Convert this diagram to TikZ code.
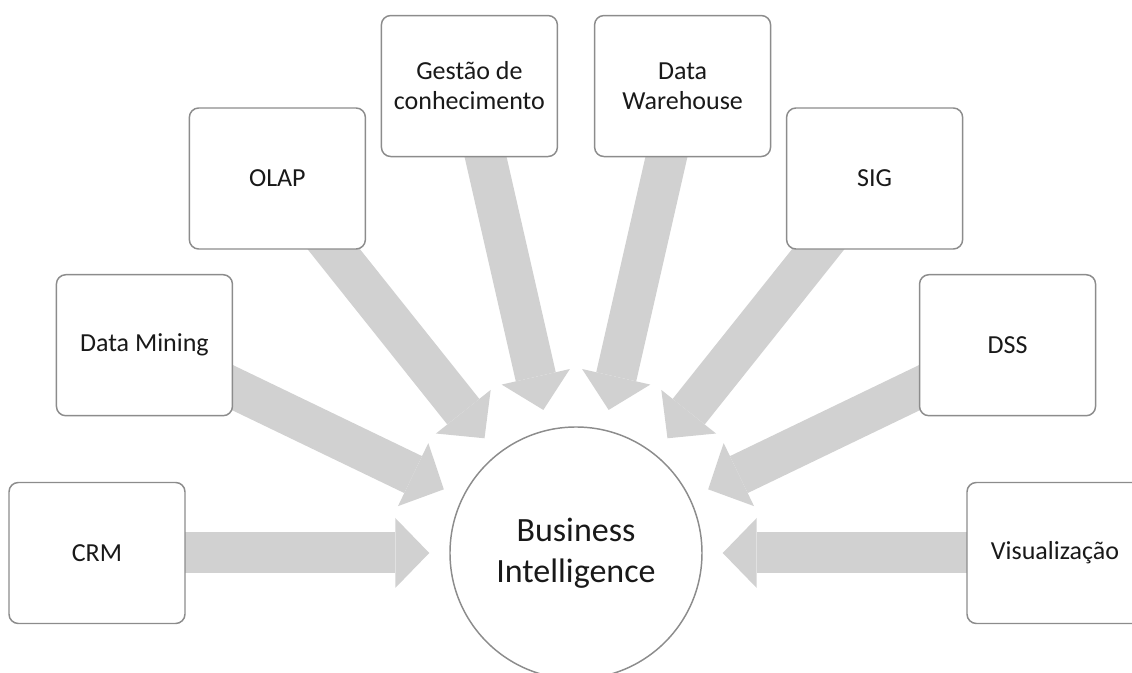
\documentclass[tikz,border=0pt]{standalone}
\usepackage{fontspec}
\setmainfont{Carlito}
\usetikzlibrary{arrows.meta}
\usetikzlibrary{backgrounds}

\begin{document}
\begin{tikzpicture}[x=0.75pt, y=0.75pt]
    \tikzstyle{hub} = [
      circle,
      align=center,
      draw=black!45,
      line width=1.1pt,
      fill=white,
      inner sep=0pt,
      minimum size=189pt,
      text=black!90,
      font=\fontsize{25.5}{30.5}\selectfont,
    ]
    \tikzstyle{topic} = [
      anchor=center,
      align=center,
      draw=black!45,
      line width=1.1pt,
      fill=white,
      rounded corners=7pt,
      minimum width=132pt,
      minimum height=105.75pt,
      text=black!90,
      font=\fontsize{19.5}{22.5}\selectfont,
    ]
    \tikzstyle{feed} = [
      line width=30.75pt,
      draw=black!18,
      -{Triangle[length=25.5pt, width=52.5pt, line width=0pt]},
      shorten >=15pt,
    ]

    \newcommand{\ringdistance}[0]{479}

    \useasboundingbox (-576,-120) rectangle (556,553);

    % centre
    {
      \node[hub] (bi) at (0,0) {Business\\Intelligence};
    }

    % left half
    {
      \node[topic] (crm)     at ([shift={(180:\ringdistance)}] bi.center)    {CRM};
      \node[topic] (mining)  at ([shift={(154.29:\ringdistance)}] bi.center) {Data Mining};
      \node[topic] (olap)    at ([shift={(128.57:\ringdistance)}] bi.center) {OLAP};
      \node[topic] (gestao)  at ([shift={(102.86:\ringdistance)}] bi.center) {Gestão de\\conhecimento};
    }

    % right half
    {
      \node[topic] (warehouse) at ([shift={(77.14:\ringdistance)}] bi.center) {Data\\Warehouse};
      \node[topic] (sig)       at ([shift={(51.43:\ringdistance)}] bi.center) {SIG};
      \node[topic] (dss)       at ([shift={(25.71:\ringdistance)}] bi.center) {DSS};
      \node[topic] (visual)    at ([shift={(0:\ringdistance)}] bi.center)     {Visualização};
    }

    % arrows into the centre
    \begin{scope}[on background layer]
      \draw[feed] (crm.center) -- (bi);
      \draw[feed] (mining.center) -- (bi);
      \draw[feed] (olap.center) -- (bi);
      \draw[feed] (gestao.center) -- (bi);
      \draw[feed] (warehouse.center) -- (bi);
      \draw[feed] (sig.center) -- (bi);
      \draw[feed] (dss.center) -- (bi);
      \draw[feed] (visual.center) -- (bi);
    \end{scope}
\end{tikzpicture}
\end{document}
